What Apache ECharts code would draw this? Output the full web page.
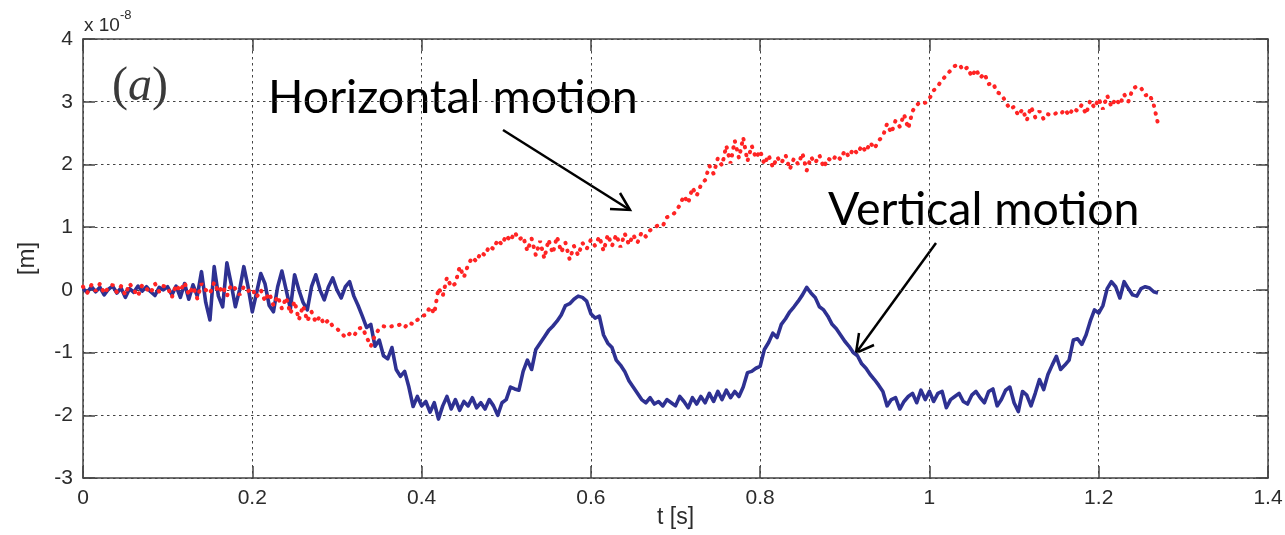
<!DOCTYPE html>
<html>
<head>
<meta charset="utf-8">
<script src="https://cdn.jsdelivr.net/npm/echarts@6/dist/echarts.min.js"></script>
<style>
  html, body { margin: 0; padding: 0; background: #ffffff; }
  #chart { width: 1285px; height: 535px; }
</style>
</head>
<body>
<div id="chart"></div>
<script>
// Sampling step of the recorded motion [s]
const DT = 0.005;

// Vertical motion [x 1e-8 m], one value per sample
const vertical = [
  0.02, -0.04, 0.05, -0.03, 0.04, -0.08, 0.01, 0.06, -0.05, 0.03,
  -0.12, 0.02, -0.04, 0.06, -0.02, 0.05, -0.03, -0.09, 0.04, 0.00,
  0.05, -0.08, 0.06, -0.12, 0.10, -0.15, 0.08, -0.10, 0.29, -0.20,
  -0.48, 0.37, -0.10, -0.27, 0.43, 0.10, -0.27, 0.00, 0.37, 0.05,
  -0.35, -0.05, 0.26, 0.10, -0.25, -0.35, 0.05, 0.30, 0.00, -0.30,
  0.24, 0.00, -0.20, -0.32, 0.05, 0.24, 0.00, -0.16, 0.05, 0.19,
  0.00, -0.13, 0.05, 0.13, -0.10, -0.25, -0.42, -0.60, -0.55, -0.90,
  -0.80, -1.05, -1.10, -0.92, -1.27, -1.38, -1.30, -1.55, -1.86, -1.70,
  -1.85, -1.78, -1.95, -1.80, -2.06, -1.85, -1.70, -1.90, -1.75, -1.92,
  -1.78, -1.85, -1.72, -1.88, -1.80, -1.90, -1.75, -1.85, -2.00, -1.80,
  -1.75, -1.55, -1.58, -1.60, -1.30, -1.12, -1.27, -0.95, -0.85, -0.75,
  -0.65, -0.58, -0.50, -0.40, -0.25, -0.22, -0.15, -0.10, -0.12, -0.18,
  -0.38, -0.45, -0.42, -0.72, -0.85, -0.92, -1.12, -1.20, -1.30, -1.45,
  -1.55, -1.65, -1.75, -1.80, -1.72, -1.82, -1.78, -1.85, -1.75, -1.80,
  -1.85, -1.70, -1.78, -1.88, -1.72, -1.82, -1.70, -1.80, -1.65, -1.78,
  -1.62, -1.75, -1.60, -1.72, -1.62, -1.70, -1.55, -1.32, -1.30, -1.25,
  -1.22, -0.95, -0.84, -0.69, -0.76, -0.55, -0.46, -0.35, -0.27, -0.18,
  -0.08, 0.04, -0.05, -0.12, -0.27, -0.32, -0.42, -0.55, -0.62, -0.72,
  -0.82, -0.90, -1.00, -1.05, -1.18, -1.25, -1.35, -1.43, -1.52, -1.62,
  -1.85, -1.75, -1.72, -1.90, -1.78, -1.70, -1.65, -1.80, -1.60, -1.75,
  -1.62, -1.78, -1.65, -1.62, -1.88, -1.75, -1.70, -1.65, -1.78, -1.82,
  -1.68, -1.62, -1.72, -1.80, -1.62, -1.58, -1.85, -1.75, -1.60, -1.55,
  -1.80, -1.94, -1.62, -1.68, -1.85, -1.65, -1.43, -1.59, -1.35, -1.20,
  -1.06, -1.27, -1.20, -1.12, -0.80, -0.78, -0.87, -0.72, -0.50, -0.32,
  -0.37, -0.25, 0.02, 0.13, 0.05, -0.13, 0.13, 0.02, -0.08, -0.10,
  0.02, 0.05, 0.03, -0.03, -0.05
];

// Horizontal motion [x 1e-8 m], one value per sample
const horizontal = [
  0.05, -0.05, 0.08, -0.02, 0.10, -0.06, 0.04, 0.08, -0.04, 0.06,
  -0.08, 0.10, 0.00, -0.10, 0.08, 0.02, -0.05, 0.10, -0.03, 0.06,
  0.04, -0.12, 0.08, -0.02, 0.12, -0.08, 0.05, -0.14, 0.10, 0.00,
  -0.06, 0.12, -0.04, 0.06, -0.10, 0.08, 0.02, -0.08, 0.05, -0.02,
  0.02, -0.12, 0.00, -0.18, -0.05, -0.25, -0.10, -0.30, -0.12, -0.38,
  -0.18, -0.48, -0.25, -0.50, -0.35, -0.52, -0.42, -0.55, -0.48, -0.58,
  -0.62, -0.68, -0.76, -0.70, -0.74, -0.62, -0.60, -0.75, -0.90, -0.72,
  -0.62, -0.58, -0.60, -0.58, -0.58, -0.55, -0.60, -0.52, -0.55, -0.48,
  -0.42, -0.40, -0.27, -0.38, 0.03, -0.10, 0.20, 0.05, 0.10, 0.37,
  0.20, 0.40, 0.52, 0.45, 0.60, 0.55, 0.70, 0.65, 0.80, 0.72,
  0.87, 0.78, 0.92, 0.80, 0.85, 0.62, 0.82, 0.55, 0.78, 0.50,
  0.80, 0.58, 0.85, 0.60, 0.75, 0.48, 0.70, 0.55, 0.75, 0.65,
  0.80, 0.70, 0.85, 0.62, 0.88, 0.70, 0.88, 0.68, 0.90, 0.72,
  0.88, 0.75, 0.92, 0.85, 0.95, 1.00, 1.03, 1.02, 1.16, 1.18,
  1.24, 1.35, 1.50, 1.38, 1.63, 1.50, 1.67, 1.75, 1.98, 1.85,
  2.10, 1.98, 2.30, 2.02, 2.38, 2.10, 2.43, 2.05, 2.30, 2.10,
  2.22, 2.00, 2.15, 1.95, 2.12, 2.02, 2.15, 1.92, 2.10, 2.00,
  2.18, 1.90, 2.12, 2.02, 2.15, 1.95, 2.10, 2.05, 2.15, 2.08,
  2.22, 2.12, 2.25, 2.17, 2.30, 2.20, 2.35, 2.25, 2.38, 2.45,
  2.65, 2.50, 2.70, 2.60, 2.80, 2.57, 2.85, 2.95, 3.00, 2.98,
  3.05, 3.18, 3.25, 3.35, 3.42, 3.50, 3.57, 3.60, 3.50, 3.55,
  3.40, 3.52, 3.38, 3.45, 3.28, 3.30, 3.15, 3.12, 3.00, 2.88,
  2.92, 2.78, 2.88, 2.70, 2.92, 2.75, 2.85, 2.72, 2.80, 2.78,
  2.82, 2.80, 2.88, 2.78, 2.90, 2.85, 2.95, 2.80, 3.02, 2.90,
  3.05, 2.88, 3.10, 2.92, 3.05, 2.95, 3.12, 3.00, 3.20, 3.25,
  3.22, 3.10, 3.12, 2.95, 2.65
];

// Axis ranges and ticks
const X_MIN = 0, X_MAX = 1.4, X_STEP = 0.2;
const Y_MIN = -3, Y_MAX = 4, Y_STEP = 1;

const toPairs = arr => arr.map((v, i) => [+(i * DT).toFixed(3), v]);

const chart = echarts.init(document.getElementById('chart'), null, { renderer: 'canvas' });

const SANS = 'Liberation Sans, Arial, sans-serif';
const tickFont = { fontFamily: SANS, fontSize: 21, color: '#2b2b2b' };
const gridLine = { show: true, lineStyle: { color: '#444', type: [2.5, 3.5], width: 1 } };
const axisLine = { show: true, onZero: false, lineStyle: { color: '#444', width: 1.5 } };
const innerTick = { show: true, inside: true, length: 12, lineStyle: { color: '#444', width: 1.5 } };

const option = {
  backgroundColor: '#ffffff',
  animation: false,
  grid: { left: 83, right: 17, top: 39, bottom: 57, containLabel: false, outerBoundsMode: 'none' },
  xAxis: [
    {
      type: 'value', min: X_MIN, max: X_MAX, interval: X_STEP, position: 'bottom',
      name: 't [s]', nameLocation: 'middle', nameGap: 28, nameMoveOverlap: false,
      nameTextStyle: { fontFamily: SANS, fontSize: 23, color: '#2b2b2b' },
      axisLine: axisLine, axisTick: innerTick, splitLine: gridLine,
      axisLabel: Object.assign({ margin: 10 }, tickFont)
    },
    {
      type: 'value', min: X_MIN, max: X_MAX, interval: X_STEP, position: 'top',
      axisLine: axisLine, axisTick: innerTick, splitLine: { show: false },
      axisLabel: { show: false }
    }
  ],
  yAxis: [
    {
      type: 'value', min: Y_MIN, max: Y_MAX, interval: Y_STEP, position: 'left',
      name: '[m]', nameLocation: 'middle', nameGap: 44, nameRotate: 90, nameMoveOverlap: false,
      nameTextStyle: { fontFamily: SANS, fontSize: 24, color: '#2b2b2b' },
      axisLine: axisLine, axisTick: innerTick, splitLine: gridLine,
      axisLabel: Object.assign({ margin: 10 }, tickFont)
    },
    {
      type: 'value', min: Y_MIN, max: Y_MAX, interval: Y_STEP, position: 'right',
      axisLine: axisLine, axisTick: innerTick, splitLine: { show: false },
      axisLabel: { show: false }
    }
  ],
  series: [
    {
      name: 'Vertical motion', type: 'line', xAxisIndex: 0, yAxisIndex: 0,
      data: toPairs(vertical), showSymbol: false, smooth: false,
      lineStyle: { color: '#2e3192', width: 3.6, join: 'round' },
      z: 2
    },
    {
      name: 'Horizontal motion', type: 'line', xAxisIndex: 0, yAxisIndex: 0,
      data: toPairs(horizontal), showSymbol: false, smooth: false,
      lineStyle: { color: '#ff2424', width: 4, type: [0.5, 7.5], cap: 'round' },
      z: 3
    }
  ],
  graphic: [
    // exponent of the y axis
    {
      type: 'text', left: 84, top: 9,
      style: {
        text: '{b|x 10}{s|-8}',
        rich: {
          b: { fontFamily: SANS, fontSize: 19, fill: '#2b2b2b', verticalAlign: 'bottom', lineHeight: 26 },
          s: { fontFamily: SANS, fontSize: 13, fill: '#2b2b2b', verticalAlign: 'top', lineHeight: 26, padding: [0, 0, 12, 0] }
        }
      }
    },
    // panel tag
    {
      type: 'text', left: 112, top: 63,
      style: {
        text: '{p|(}{a|a}{p|)}',
        rich: {
          p: { fontFamily: 'Liberation Serif, DejaVu Serif, serif', fontSize: 48, fill: '#3a3a3a' },
          a: { fontFamily: 'Liberation Serif, DejaVu Serif, serif', fontSize: 48, fontStyle: 'italic', fill: '#3a3a3a' }
        }
      }
    },
    // annotations
    {
      type: 'text', left: 268, top: 74,
      style: { text: 'Horizontal motion', fontFamily: 'Lato, Noto Sans, sans-serif', fontSize: 46.5, fill: '#000' }
    },
    {
      type: 'text', left: 828, top: 186,
      style: { text: 'Vertical motion', fontFamily: 'Lato, Noto Sans, sans-serif', fontSize: 46.5, fill: '#000' }
    },
    { type: 'line', shape: { x1: 503, y1: 130, x2: 630, y2: 210 }, style: { stroke: '#000', lineWidth: 2.5 } },
    { type: 'polyline', shape: { points: [[620, 193], [630, 210], [610, 209]] }, style: { stroke: '#000', lineWidth: 2.5, fill: null } },
    { type: 'line', shape: { x1: 936, y1: 243, x2: 856, y2: 353 }, style: { stroke: '#000', lineWidth: 2.5 } },
    { type: 'polyline', shape: { points: [[859, 333], [856, 353], [874, 345]] }, style: { stroke: '#000', lineWidth: 2.5, fill: null } }
  ]
};

chart.setOption(option);
</script>
</body>
</html>
